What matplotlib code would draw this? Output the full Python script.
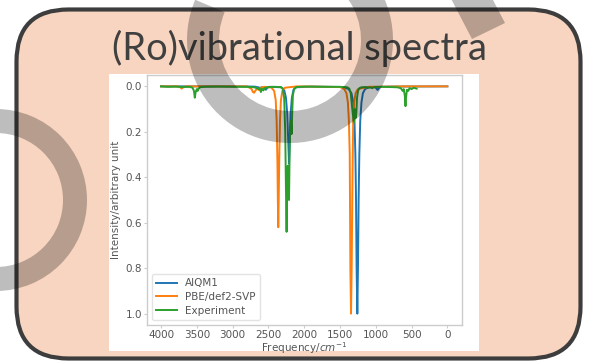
import matplotlib
matplotlib.use("Agg")
import matplotlib.pyplot as plt
from matplotlib.patches import FancyBboxPatch, Rectangle, Wedge, Polygon

# ---- spectra (frequency in cm^-1, intensity in arbitrary units) ----
aiqm1_freq = [4000, 3000, 2700, 2640, 2620, 2600, 2560, 2535, 2515, 2480, 2320,
              2280, 2255, 2237, 2222, 2212, 2203, 2190, 2172, 2150, 2110, 1900,
              1450, 1380, 1340, 1315, 1298, 1285, 1276, 1268, 1258, 1249, 1240,
              1230, 1217, 1200, 1180, 1150, 1100, 1020, 995, 975, 958, 935, 800, 0]
aiqm1_int = [0, 0, 0.001, 0.004, 0.01, 0.004, 0.006, 0.015, 0.006, 0.002, 0.004,
             0.015, 0.05, 0.12, 0.25, 0.34, 0.25, 0.12, 0.05, 0.015, 0.004, 0.001,
             0.003, 0.012, 0.03, 0.07, 0.15, 0.3, 0.5, 0.8, 1.0, 0.8, 0.5,
             0.3, 0.15, 0.07, 0.03, 0.012, 0.004, 0.003, 0.008, 0.016, 0.008, 0.002, 0.001, 0]

pbe_freq = [4000, 3760, 3730, 3712, 3695, 3660, 3100, 2800, 2740, 2715, 2700, 2680,
            2655, 2632, 2610, 2560, 2460, 2420, 2398, 2385, 2374, 2368, 2362, 2356,
            2349, 2338, 2325, 2305, 2270, 2100, 1500, 1440, 1410, 1390, 1376, 1364,
            1355, 1346, 1337, 1328, 1316, 1302, 1282, 1250, 1100, 600, 0]
pbe_int = [0, 0, 0.004, 0.01, 0.005, 0, 0, 0, 0.01, 0.025, 0.028, 0.018,
           0.01, 0.016, 0.006, 0.002, 0.005, 0.02, 0.06, 0.15, 0.33, 0.5, 0.62, 0.5,
           0.33, 0.15, 0.06, 0.02, 0.006, 0, 0.003, 0.012, 0.03, 0.07, 0.15, 0.3,
           0.8, 1.0, 0.8, 0.5, 0.15, 0.07, 0.03, 0.012, 0.002, 0, 0]

exp_freq = [4000, 3900, 3800, 3700, 3600, 3560, 3540, 3528, 3516, 3500, 3488, 3475,
            3455, 3400, 3200, 3000, 2800, 2700, 2660, 2640, 2625, 2605, 2590, 2570,
            2555, 2530, 2500, 2420, 2330, 2300, 2280, 2265, 2255, 2246, 2238, 2230,
            2220, 2212, 2204, 2196, 2185, 2176, 2168, 2158, 2140, 2110, 2000, 1700,
            1500, 1400, 1370, 1350, 1335, 1318, 1305, 1295, 1283, 1272, 1262, 1248,
            1230, 1200, 1150, 1100, 1080, 1050, 1020, 900, 700, 650, 625, 610,
            595, 585, 578, 565, 545, 530, 500, 470, 430]
exp_int = [0, 0.002, 0.001, 0.003, 0.002, 0.006, 0.02, 0.05, 0.025, 0.012, 0.02, 0.01,
           0.004, 0.002, 0.001, 0.002, 0.002, 0.004, 0.008, 0.012, 0.006, 0.025, 0.01, 0.018,
           0.008, 0.006, 0.003, 0.002, 0.003, 0.01, 0.05, 0.2, 0.45, 0.64, 0.42, 0.35,
           0.48, 0.5, 0.3, 0.18, 0.15, 0.21, 0.12, 0.04, 0.01, 0.003, 0.001, 0.002,
           0.002, 0.004, 0.01, 0.03, 0.08, 0.13, 0.16, 0.1, 0.14, 0.12, 0.05, 0.02,
           0.008, 0.004, 0.003, 0.006, 0.004, 0.008, 0.003, 0.002, 0.004, 0.008, 0.02, 0.012,
           0.04, 0.087, 0.05, 0.015, 0.02, 0.008, 0.012, 0.006, 0.01]

series_labels = ["AIQM1", "PBE/def2-SVP", "Experiment"]
series_colors = ["#1f77b4", "#ff7f0e", "#2ca02c"]
title_text = "(Ro)vibrational spectra"

W, H = 590, 361
fig = plt.figure(figsize=(W / 100, H / 100), dpi=100)
fig.patch.set_facecolor("white")

# ---- slide background in pixel coordinates ----
bg = fig.add_axes([0, 0, 1, 1])
bg.set_xlim(0, W)
bg.set_ylim(H, 0)
bg.axis("off")
card = FancyBboxPatch((16.5, 9.5), 564, 349,
                      boxstyle="round,pad=0,rounding_size=52",
                      facecolor="#F8D5C0", edgecolor="#3d3d3d", linewidth=3.0)
bg.add_patch(card)

t = bg.text(W / 2 + 4, 60, title_text, ha="center", va="baseline",
            fontsize=30, color="#404040", family="Lato")
fig.canvas.draw()
ext = t.get_window_extent()
t.set_fontsize(30 * 374 / ext.width)

bg.add_patch(Rectangle((109, 74), 370, 277, facecolor="white", edgecolor="none"))

# ---- spectrum axes ----
ax_l, ax_r, ax_t, ax_b = 146.7, 461.7, 75, 325
ax = fig.add_axes([ax_l / W, (H - ax_b) / H, (ax_r - ax_l) / W, (ax_b - ax_t) / H])
ax.set_facecolor("white")
for fr, it, lab, col in zip([aiqm1_freq, pbe_freq, exp_freq],
                            [aiqm1_int, pbe_int, exp_int],
                            series_labels, series_colors):
    ax.plot(fr, it, color=col, lw=1.4, label=lab)
ax.set_xlim(4200, -200)
ax.set_ylim(1.05, -0.05)
ax.set_xticks([4000, 3500, 3000, 2500, 2000, 1500, 1000, 500, 0])
ax.set_yticks([0.0, 0.2, 0.4, 0.6, 0.8, 1.0])
for s in ax.spines.values():
    s.set_color("#cccccc")
    s.set_linewidth(1.0)
ax.tick_params(labelsize=7.5, labelcolor="#555555", color="#cccccc",
               length=2, width=0.8, pad=1.5)
ax.set_xlabel("Frequency/$cm^{-1}$", fontsize=7.5, color="#555555", labelpad=0.5)
ax.set_ylabel("Intensity/arbitrary unit", fontsize=7.5, color="#555555", labelpad=3)
leg = ax.legend(loc="lower left", fontsize=7.5, labelspacing=0.35, framealpha=0.8,
                edgecolor="#dddddd")
for txt in leg.get_texts():
    txt.set_color("#555555")

# ---- translucent ring emblem on top ----
ov = fig.add_axes([0, 0, 1, 1], zorder=10)
ov.set_xlim(0, W)
ov.set_ylim(H, 0)
ov.patch.set_alpha(0)
ov.axis("off")
shade = dict(facecolor="black", alpha=0.26, edgecolor="none")
ov.add_patch(Wedge((290, 40), 103, -60, 203, width=32, **shade))
ov.add_patch(Wedge((-4, 200), 91, 0, 360, width=24, **shade))
ov.add_patch(Polygon([(472, 39), (505, 23), (480, -25), (447, -9)], closed=True, **shade))

fig.savefig("out.png", dpi=100)
